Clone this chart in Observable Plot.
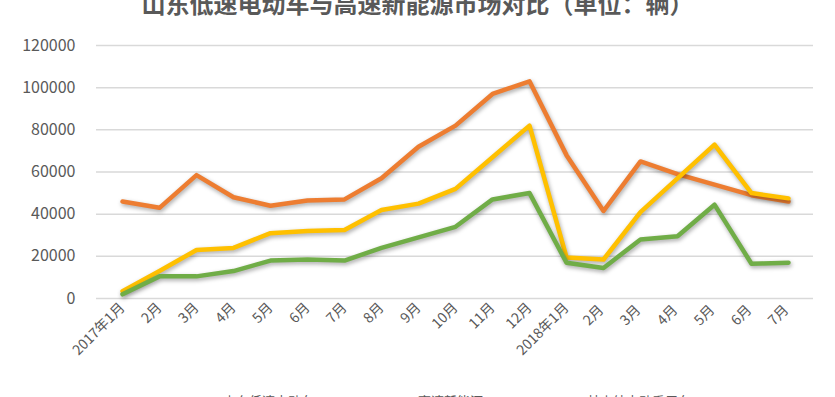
<!DOCTYPE html>
<html>
<head>
<meta charset="utf-8">
<script src="https://cdn.jsdelivr.net/npm/d3@7"></script>
<script src="https://cdn.jsdelivr.net/npm/@observablehq/plot@0.6"></script>
<style>
  html, body { margin: 0; padding: 0; background: #fff; overflow: hidden; }
  body { width: 835px; height: 397px; font-family: "Noto Sans CJK SC", "Noto Sans", sans-serif; }
  #title { margin-top: -11px; height: 26px; line-height: 28px; text-align: center; font-size: 24px; font-weight: bold; color: #595959; white-space: nowrap; }
  #chart svg { display: block; }
  #chart g[aria-label="line"] path { filter: drop-shadow(1px 2px 2px rgba(0,0,0,0.35)); }
  #legend { display: flex; gap: 74px; padding-left: 193px; height: 20px; line-height: 20px; margin-top: 11px; font-size: 13px; color: #595959; }
  .item { display: flex; align-items: center; gap: 6px; white-space: nowrap; }
  .sw { width: 24px; height: 4px; }
</style>
</head>
<body>
<div id="title">山东低速电动车与高速新能源市场对比（单位：辆）</div>
<div id="chart"></div>
<div id="legend"></div>
<script>
const months = ["2017年1月","2月","3月","4月","5月","6月","7月","8月","9月","10月","11月","12月","2018年1月","2月 ","3月 ","4月 ","5月 ","6月 ","7月 "];
const seriesNames = ["山东低速电动车", "高速新能源", "其中纯电动乘用车"];
const seriesColors = ["#ED7D31", "#FFC000", "#70AD47"];
const orangeValues = [46000, 43000, 58500, 48000, 44000, 46500, 47000, 57000, 72000, 82000, 97000, 103000, 68000, 41500, 65000, 59000, 54000, 49000, 46000];
const yellowValues = [3500, 13000, 23000, 24000, 31000, 32000, 32500, 42000, 45000, 52000, 67000, 82000, 19500, 18500, 41000, 57000, 73000, 50000, 47500];
const greenValues  = [2000, 10500, 10500, 13000, 18000, 18500, 18000, 24000, 29000, 34000, 47000, 50000, 17000, 14500, 28000, 29500, 44500, 16500, 17000];
const yTicks = [0, 20000, 40000, 60000, 80000, 100000, 120000];

const allValues = [orangeValues, yellowValues, greenValues];
const data = [];
allValues.forEach((vals, si) => vals.forEach((v, i) => data.push({series: seriesNames[si], month: months[i], value: v})));

const chart = Plot.plot({
  width: 835,
  height: 365,
  marginLeft: 96,
  marginRight: 22,
  marginTop: 30,
  marginBottom: 82,
  style: { fontFamily: '"Noto Sans CJK SC", "Noto Sans", sans-serif', color: "#595959", background: "#fff" },
  x: { type: "point", domain: months, padding: 0.5, label: null },
  y: { domain: [0, 120000], label: null },
  color: { domain: seriesNames, range: seriesColors },
  marks: [
    Plot.ruleY(yTicks, { stroke: "#D9D9D9", strokeWidth: 1.5 }),
    Plot.axisY({ ticks: yTicks, tickSize: 0, tickPadding: 21, tickFormat: d => String(d), fontSize: 16, fill: "#595959", label: null }),
    Plot.axisX({ tickSize: 0, tickRotate: -45, tickPadding: 7, fontSize: 14, fill: "#595959", label: null }),
    ...seriesNames.map(name => Plot.line(data.filter(d => d.series === name), {
      x: "month", y: "value", stroke: "series", strokeWidth: 4.5, strokeLinejoin: "round", strokeLinecap: "round"
    }))
  ]
});
document.getElementById("chart").appendChild(chart);

const legend = document.getElementById("legend");
seriesNames.forEach((n, i) => {
  const it = document.createElement("div");
  it.className = "item";
  it.innerHTML = `<span class="sw" style="background:${seriesColors[i]}"></span><span>${n}</span>`;
  legend.appendChild(it);
});
</script>
</body>
</html>
